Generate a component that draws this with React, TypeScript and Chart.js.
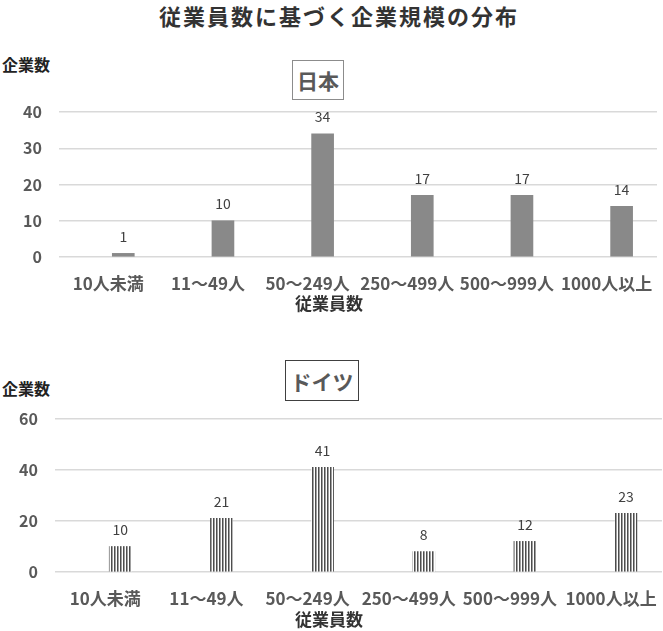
import { useEffect, useRef } from "react"
import { Chart, registerables } from "chart.js"

Chart.register(...registerables)

const FONT = "'Noto Sans CJK JP', 'Noto Sans', sans-serif"
Chart.defaults.font.family = FONT

const CATEGORIES = ["10人未満", "11～49人", "50～249人", "250～499人", "500～999人", "1000人以上"]
const JAPAN_VALUES = [1, 10, 34, 17, 17, 14]
const GERMANY_VALUES = [10, 21, 41, 8, 12, 23]
const JAPAN_TICKS = [0, 10, 20, 30, 40]
const GERMANY_TICKS = [0, 20, 40, 60]

// bars sit ~15px right of their labels in the original, so x is a linear index axis
const X_MIN = -0.645
const X_MAX = 5.355

function stripePattern() {
  const c = document.createElement("canvas")
  c.width = 3
  c.height = 4
  const g = c.getContext("2d")!
  g.fillStyle = "#ffffff"
  g.fillRect(0, 0, 3, 4)
  g.fillStyle = "#4d4d4d"
  g.fillRect(0, 0, 1, 4)
  g.fillStyle = "#a0a0a0"
  g.fillRect(1, 0, 1, 4)
  return g.createPattern(c, "repeat")
}

const valueLabels = {
  id: "valueLabels",
  afterDatasetsDraw(chart: Chart) {
    const { ctx } = chart
    const meta = chart.getDatasetMeta(0)
    const data = chart.data.datasets[0].data as { x: number; y: number }[]
    ctx.save()
    ctx.font = `14px ${FONT}`
    ctx.fillStyle = "#404040"
    ctx.textAlign = "center"
    ctx.textBaseline = "middle"
    meta.data.forEach((bar: any, i) => {
      ctx.fillText(String(data[i].y), bar.x, bar.y - 17)
    })
    ctx.restore()
  },
}

interface PanelProps {
  values: number[]
  ticks: number[]
  striped: boolean
  top: number
  height: number
  padTop: number
  padRight: number
  axisHeight: number
  yWidth: number
  yPad: number
}

function Panel({ values, ticks, striped, top, height, padTop, padRight, axisHeight, yWidth, yPad }: PanelProps) {
  const canvasRef = useRef<HTMLCanvasElement>(null)
  const chartRef = useRef<Chart | null>(null)

  useEffect(() => {
    if (!canvasRef.current) return
    chartRef.current?.destroy()
    const fill = striped ? stripePattern() : "#898989"

    chartRef.current = new Chart(canvasRef.current, {
      type: "bar",
      data: {
        datasets: [{
          data: values.map((v, i) => ({ x: i, y: v })),
          backgroundColor: fill as any,
          borderWidth: 0,
          barThickness: 22,
        }],
      },
      options: {
        responsive: false,
        animation: false,
        layout: { padding: { top: padTop, right: padRight, left: 0, bottom: 0 } },
        plugins: { legend: { display: false }, tooltip: { enabled: false } },
        scales: {
          x: {
            type: "linear",
            min: X_MIN,
            max: X_MAX,
            offset: false,
            grid: { display: false, drawTicks: false },
            border: { display: false },
            afterBuildTicks: (scale: any) => {
              scale.ticks = CATEGORIES.map((_, i) => ({ value: i }))
            },
            afterFit: (scale: any) => {
              scale.height = axisHeight
              scale.paddingLeft = 0
              scale.paddingRight = 0
            },
            ticks: {
              autoSkip: false,
              maxRotation: 0,
              labelOffset: -15,
              padding: 16,
              color: "#595959",
              font: { size: 17, weight: "bold" },
              callback: (v: any) => CATEGORIES[v as number] ?? "",
            },
          },
          y: {
            min: ticks[0],
            max: ticks[ticks.length - 1],
            grid: { color: "#d9d9d9", lineWidth: 1.5, drawTicks: false },
            border: { display: false },
            afterBuildTicks: (scale: any) => {
              scale.ticks = ticks.map(t => ({ value: t }))
            },
            afterFit: (scale: any) => {
              scale.width = yWidth
              scale.paddingTop = 0
              scale.paddingBottom = 0
            },
            ticks: {
              padding: yPad,
              color: "#595959",
              font: { size: 16, weight: "bold" },
            },
          },
        },
      },
      plugins: [valueLabels],
    })

    return () => { chartRef.current?.destroy() }
  }, [values, ticks, striped])

  return (
    <canvas
      ref={canvasRef}
      width={663}
      height={height}
      style={{ position: "absolute", left: 0, top, width: 663, height }}
    />
  )
}

const boxStyle = {
  position: "absolute" as const,
  boxSizing: "border-box" as const,
  display: "flex",
  alignItems: "center",
  justifyContent: "center",
  fontSize: 21,
  fontWeight: "bold",
  color: "#595959",
  background: "#fff",
}

const axisTitle = {
  position: "absolute" as const,
  transform: "translateX(-50%)",
  fontSize: 17,
  fontWeight: "bold",
  color: "#333",
  lineHeight: "20px",
  whiteSpace: "nowrap" as const,
}

const countLabel = {
  position: "absolute" as const,
  left: 2,
  fontSize: 16,
  fontWeight: "bold",
  color: "#222",
  lineHeight: "20px",
}

export default function App() {
  return (
    <div style={{ position: "absolute", left: 0, top: 0, width: 663, height: 631, background: "#fff", fontFamily: FONT, overflow: "hidden" }}>
      <div style={{ position: "absolute", left: 339, top: 0, transform: "translateX(-50%)", fontSize: 22, fontWeight: "bold", letterSpacing: 2, color: "#333", lineHeight: "30px", whiteSpace: "nowrap" }}>
        従業員数に基づく企業規模の分布
      </div>

      <Panel values={JAPAN_VALUES} ticks={JAPAN_TICKS} striped={false}
        top={95} height={225} padTop={17} padRight={6} axisHeight={63} yWidth={59} yPad={17} />
      <div style={{ ...countLabel, top: 54 }}>企業数</div>
      <div style={{ ...boxStyle, left: 292, top: 60, width: 52, height: 40, border: "1px solid #8c8c8c" }}>日本</div>
      <div style={{ ...axisTitle, left: 329, top: 293 }}>従業員数</div>

      <Panel values={GERMANY_VALUES} ticks={GERMANY_TICKS} striped={true}
        top={404} height={227} padTop={15} padRight={1} axisHeight={59} yWidth={55} yPad={17} />
      <div style={{ ...countLabel, top: 378 }}>企業数</div>
      <div style={{ ...boxStyle, left: 285, top: 360, width: 74, height: 41, border: "1px solid #404040" }}>ドイツ</div>
      <div style={{ ...axisTitle, left: 329, top: 609 }}>従業員数</div>
    </div>
  )
}
